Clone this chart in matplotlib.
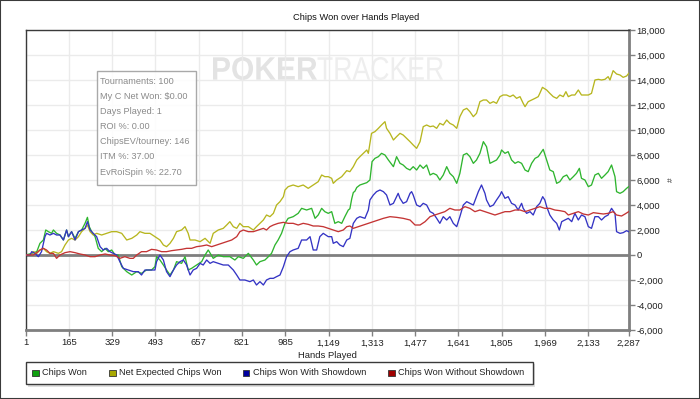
import matplotlib
matplotlib.use("Agg")
import matplotlib.pyplot as plt
from matplotlib.patches import Rectangle, PathPatch
from matplotlib.textpath import TextPath
from matplotlib.font_manager import FontProperties
from matplotlib.transforms import Affine2D, IdentityTransform
from matplotlib.ticker import FuncFormatter

plt.rcParams['font.family'] = ['Liberation Sans', 'DejaVu Sans']

title = "Chips Won over Hands Played"
series_names = ["Chips Won", "Net Expected Chips Won", "Chips Won With Showdown", "Chips Won Without Showdown"]
line_colors = ["#2fb52f", "#b7b61f", "#3434c4", "#c43434"]
legend_colors = ["#10a010", "#a8a800", "#0000a0", "#a00000"]

x_ticks = [1, 165, 329, 493, 657, 821, 985, 1149, 1313, 1477, 1641, 1805, 1969, 2133, 2287]
y_ticks = list(range(-6000, 18001, 2000))

info_lines = ["Tournaments: 100", "My C Net Won: $0.00", "Days Played: 1", "ROI %: 0.00",
              "ChipsEV/tourney: 146", "ITM %: 37.00", "EvRoiSpin %: 22.70"]
watermark_words = ["POKER", "TRACKER"]

won_hands = [1, 24, 43, 55, 68, 77, 87, 99, 106, 118, 131, 144, 156, 163, 175, 188, 201, 213, 226, 235,
             242, 251, 264, 276, 289, 302, 314, 327, 340, 352, 365, 384, 403, 422, 440, 459, 478, 491, 497, 510,
             523, 535, 548, 561, 573, 592, 605, 617, 630, 649, 668, 681, 693, 712, 731, 750, 775, 794, 807, 826,
             845, 864, 876, 889, 908, 921, 933, 946, 958, 971, 984, 996, 1015, 1034, 1047, 1066, 1085, 1098, 1110, 1123,
             1135, 1148, 1161, 1173, 1186, 1199, 1211, 1224, 1230, 1237, 1243, 1249, 1256, 1268, 1294, 1306, 1314, 1325,
             1338, 1350, 1363, 1376, 1395, 1407, 1420, 1432, 1445, 1458, 1470, 1483, 1496, 1508, 1521, 1534, 1546, 1559,
             1571, 1584, 1597, 1609, 1622, 1635, 1647, 1660, 1673, 1685, 1698, 1710, 1723, 1736, 1748, 1761, 1774, 1786,
             1799, 1805, 1818, 1830, 1843, 1856, 1868, 1881, 1894, 1906, 1919, 1932, 1944, 1957, 1963, 1976, 1988, 2001,
             2014, 2026, 2039, 2052, 2064, 2077, 2089, 2100, 2108, 2121, 2134, 2146, 2159, 2172, 2184, 2197, 2209, 2222,
             2235, 2241, 2254, 2266, 2279, 2287]
won_values = [0, 133, 267, 933, 1200, 2000, 1867, 1733, 2000, 1733, 1600, 1200, 2000, 1467, 1867, 1333, 1867, 2000, 2533, 3013,
              2267, 1867, 1467, 533, 267, 533, 267, 400, 0, 0, -933, -1333, -1600, -1333, -1467, -1200, -1200, -933, -133, -400,
              -800, -1200, -1600, -1200, -533, -667, -133, -1200, -1067, -800, -533, 0, 400, -267, 0, -133, -133, -400, -133, -267,
              133, -400, -800, -533, -400, -133, 133, 800, 1200, 1733, 2533, 2933, 3067, 3333, 3733, 3600, 3733, 2933, 3200, 3733,
              3467, 3333, 3467, 2533, 2667, 2533, 3067, 3600, 3700, 4500, 5000, 5100, 5400, 5600, 5787, 6000, 7467, 7733,
              7867, 8133, 8000, 7600, 7067, 7867, 7333, 7200, 6933, 6800, 7067, 6800, 7200, 6933, 7200, 6400, 6533, 6400,
              6000, 6400, 7067, 6533, 6267, 5733, 6533, 8000, 8133, 7867, 7333, 7600, 8133, 9067, 8667, 7333, 7467, 7600,
              8000, 8400, 8133, 8267, 7600, 7333, 7467, 7333, 6800, 6667, 7333, 7733, 7867, 8267, 8453, 7600, 6800, 6667,
              5733, 5867, 6267, 6400, 6000, 6267, 6533, 6933, 6133, 6000, 5467, 5600, 6400, 6533, 6133, 6400, 6667, 7200,
              6267, 5067, 4933, 5067, 5333, 5467]

ev_hands = [1, 17, 30, 43, 55, 68, 80, 93, 106, 125, 137, 150, 163, 175, 188, 201, 213, 226, 235, 245,
            257, 270, 289, 308, 327, 346, 365, 384, 403, 422, 434, 453, 472, 491, 510, 523, 535, 548, 561, 573,
            592, 605, 617, 624, 643, 662, 681, 700, 712, 731, 750, 763, 775, 788, 801, 813, 826, 845, 864, 876,
            889, 902, 914, 927, 940, 952, 965, 978, 984, 996, 1015, 1034, 1053, 1072, 1091, 1110, 1123, 1135, 1148, 1161,
            1167, 1180, 1199, 1218, 1230, 1243, 1256, 1268, 1281, 1294, 1300, 1312, 1325, 1338, 1350, 1363, 1369, 1382,
            1395, 1407, 1420, 1432, 1445, 1458, 1470, 1483, 1496, 1508, 1521, 1534, 1546, 1559, 1571, 1584, 1597, 1609,
            1622, 1635, 1647, 1660, 1673, 1685, 1698, 1710, 1723, 1736, 1748, 1761, 1774, 1786, 1799, 1811, 1824, 1837,
            1849, 1862, 1875, 1887, 1894, 1906, 1919, 1932, 1944, 1950, 1960, 1976, 1988, 2001, 2014, 2026, 2039, 2049,
            2058, 2071, 2083, 2096, 2108, 2121, 2134, 2146, 2159, 2172, 2184, 2197, 2209, 2216, 2228, 2241, 2254, 2266,
            2279, 2287]
ev_values = [0, 0, 267, 133, 400, 533, 267, 133, 267, 133, 267, 800, 1200, 1333, 1200, 1467, 1867, 2133, 2400, 1867,
             1600, 1733, 1600, 1733, 1867, 1867, 1733, 1200, 1333, 1600, 1867, 1733, 1733, 1467, 1200, 800, 667, 933, 1333, 1867,
             2000, 2267, 1733, 1200, 1200, 1067, 1333, 933, 1733, 2000, 2133, 2400, 2667, 2267, 2133, 2533, 2267, 2267, 2000, 2267,
             2533, 2800, 3200, 3067, 3333, 4000, 4267, 4667, 5200, 5467, 5600, 5467, 5600, 5333, 5600, 5867, 6400, 6267, 6267, 6133,
             5733, 6000, 6267, 6747, 6667, 7067, 7600, 7867, 8133, 8400, 8133, 9733, 9867, 10133, 10400, 10667, 10133, 9733,
             9200, 9467, 9733, 9600, 9333, 9067, 8800, 8533, 9067, 10267, 10400, 10267, 10320, 10133, 10533, 10400, 10800, 10533,
             10400, 10133, 11067, 11600, 11733, 11467, 11067, 11333, 12267, 12400, 12400, 12133, 12267, 12133, 12667, 12800, 12800, 12667,
             12800, 12533, 12667, 12133, 11867, 12267, 12400, 12533, 12667, 12933, 13413, 13200, 12933, 12667, 12533, 12800, 12667, 13067,
             12667, 12800, 12800, 13200, 12800, 12800, 12800, 12933, 14000, 14053, 14000, 14053, 14267, 14000, 14747, 14480, 14400, 14213,
             14320, 14533]

sd_hands = [1, 17, 24, 36, 49, 61, 74, 80, 93, 106, 118, 131, 144, 156, 163, 175, 188, 201, 213, 226,
            235, 245, 257, 270, 283, 295, 308, 320, 333, 346, 358, 371, 390, 409, 428, 440, 453, 472, 491, 497,
            510, 523, 535, 548, 561, 573, 586, 599, 611, 624, 636, 649, 662, 674, 687, 700, 712, 731, 750, 769,
            788, 801, 813, 832, 851, 864, 876, 889, 902, 914, 927, 940, 952, 965, 978, 990, 1003, 1015, 1034, 1047,
            1066, 1079, 1091, 1104, 1116, 1129, 1148, 1161, 1167, 1180, 1192, 1205, 1218, 1230, 1243, 1256, 1268, 1287,
            1300, 1306, 1319, 1331, 1344, 1357, 1369, 1382, 1395, 1407, 1413, 1420, 1432, 1445, 1458, 1464, 1470, 1483,
            1496, 1508, 1521, 1534, 1546, 1559, 1571, 1584, 1597, 1609, 1622, 1635, 1647, 1660, 1673, 1685, 1698, 1710,
            1717, 1729, 1742, 1748, 1761, 1774, 1786, 1799, 1805, 1818, 1830, 1843, 1856, 1868, 1881, 1887, 1900, 1913,
            1925, 1938, 1950, 1961, 1969, 1976, 1988, 2001, 2014, 2024, 2033, 2045, 2058, 2071, 2083, 2096, 2108, 2121,
            2134, 2146, 2159, 2172, 2184, 2197, 2209, 2222, 2235, 2241, 2254, 2266, 2279, 2287]
sd_values = [0, 0, 267, 133, -133, 267, 1467, 1733, 1600, 1733, 1600, 1600, 1200, 2000, 1467, 1867, 1200, 1867, 2000, 2133,
             2667, 2000, 1733, 1467, 667, 400, 533, 267, 133, 0, -533, -1067, -1200, -1333, -1333, -1600, -1200, -1200, -1200, -533,
             0, -400, -1333, -1733, -1200, -800, -533, -400, -800, -1600, -1200, -1067, -667, -800, -400, -667, -533, -667, -800, -800,
             -1200, -1600, -2000, -2000, -2133, -2000, -2400, -2133, -2400, -2000, -1867, -1867, -1733, -1600, -933, -133, 267, 400, 533, 1200,
             1200, 1467, 400, 400, 1467, 1733, 1467, 1467, 933, 1067, 800, 667, 1200, 1333, 2533, 2933, 3067, 2933,
             3600, 4400, 4800, 5067, 5200, 5067, 4800, 4000, 4133, 4667, 4933, 4533, 4133, 4267, 4933, 5067, 4800, 4000,
             3867, 4133, 4000, 3467, 3333, 2933, 2533, 3067, 2800, 3067, 2533, 2267, 3067, 4000, 4267, 4133, 4000, 4667,
             5067, 5600, 4933, 4400, 3867, 4000, 4400, 4800, 5067, 4533, 4667, 4133, 4000, 3600, 4133, 3733, 3333, 3467,
             3200, 3867, 4133, 4667, 4400, 3867, 3200, 2800, 2533, 2000, 2667, 2800, 2933, 2667, 3333, 2800, 3200, 3067,
             2267, 2133, 3067, 3067, 2800, 3067, 3200, 3733, 3333, 1867, 1733, 1787, 1947, 1867]

nsd_hands = [1, 30, 43, 55, 68, 80, 93, 106, 118, 131, 150, 169, 188, 207, 226, 245, 264, 283, 302, 320,
             340, 358, 377, 396, 409, 422, 440, 459, 478, 497, 516, 535, 554, 573, 592, 611, 630, 649, 668, 687,
             706, 725, 744, 763, 782, 801, 813, 826, 845, 864, 883, 902, 914, 927, 940, 958, 978, 996, 1015, 1034,
             1053, 1072, 1091, 1110, 1129, 1148, 1167, 1186, 1205, 1218, 1230, 1243, 1262, 1281, 1300, 1319, 1338, 1357,
             1382, 1407, 1432, 1458, 1477, 1496, 1515, 1534, 1552, 1571, 1590, 1609, 1628, 1647, 1666, 1685, 1704, 1723,
             1742, 1761, 1780, 1799, 1818, 1837, 1856, 1875, 1894, 1913, 1932, 1950, 1969, 1988, 2007, 2026, 2045, 2058,
             2077, 2096, 2115, 2134, 2153, 2172, 2191, 2209, 2228, 2241, 2260, 2273, 2287]
nsd_values = [0, 0, 187, 400, 533, 400, 133, 133, -267, 0, 187, 267, 187, 80, 0, -133, -133, 0, 80, 0,
              -53, -267, -133, -267, -267, 0, 267, 267, 453, 400, 267, 267, 347, 400, 453, 533, 533, 667, 720, 800,
              667, 800, 933, 1067, 1200, 1467, 1867, 2000, 1867, 1867, 2000, 2133, 2000, 2267, 2400, 2533, 2613, 2533, 2533, 2400,
              2533, 2453, 2320, 2320, 2267, 2133, 2000, 1867, 2000, 2267, 2320, 2133, 2267, 2400, 2533, 2667, 2800, 2933,
              3067, 3013, 2933, 2800, 2400, 2400, 2667, 3067, 3200, 3333, 3467, 3733, 3600, 3600, 3867, 3733, 3467, 3600,
              3467, 3333, 3200, 3333, 3467, 3467, 3600, 3600, 3467, 3600, 3733, 3867, 3733, 3733, 3600, 3547, 3467, 3200,
              3333, 3467, 3280, 3200, 3387, 3333, 3280, 3333, 3467, 3200, 3120, 3280, 3467]

W, H = 700, 399
fig = plt.figure(figsize=(W / 100, H / 100), dpi=100)
fig.patch.set_facecolor("white")


def fx(x):
    return x / W


def fy(y):
    return 1 - y / H


ax = fig.add_axes([fx(25.7), fy(330), (628.7 - 25.7) / W, 300 / H])
ax.set_facecolor("white")
ax.patch.set_alpha(0)

# watermark (condensed text paths, drawn under the grid)
wm_boxes = [(213, 317), (317.5, 443)]
wm_weights = ["bold", "normal"]
wm_colors = ["#e3e3e3", "#eeeeee"]
for word, (x0, x1), wt, col in zip(watermark_words, wm_boxes, wm_weights, wm_colors):
    tp = TextPath((0, 0), word, size=1, prop=FontProperties(family="Liberation Sans", weight=wt))
    ext = tp.get_extents()
    sx = (x1 - x0) / ext.width
    sy = (80 - 57) / ext.height
    tr = Affine2D().translate(-ext.x0, -ext.y0).scale(sx, sy).translate(x0, H - 80)
    fig.add_artist(PathPatch(tr.transform_path(tp), transform=IdentityTransform(),
                             facecolor=col, edgecolor="none", zorder=-1))

for hands, vals, c in zip([won_hands, ev_hands, sd_hands, nsd_hands],
                          [won_values, ev_values, sd_values, nsd_values], line_colors):
    ax.plot(hands, vals, color=c, lw=0.95, zorder=3)

ax.axhline(0, color="#7f7f7f", lw=2.0, zorder=2)

ax.set_xlim(x_ticks[0], x_ticks[-1])
ax.set_ylim(y_ticks[0], y_ticks[-1])
ax.set_xticks(x_ticks)
ax.set_xticklabels([f"{v:,}" for v in x_ticks])
ax.set_yticks(y_ticks)
ax.yaxis.set_major_formatter(FuncFormatter(lambda v, p: f"{int(v):,}"))
ax.yaxis.tick_right()
ax.grid(True, color="#ebebeb", lw=1.0)
ax.set_axisbelow(True)

ax.tick_params(axis="y", which="both", length=4, width=1, color="#808080", labelsize=6.8, pad=1.5,
               labelcolor="#222222", left=False, right=True)
ax.tick_params(axis="x", which="both", length=4, width=1, color="#808080", labelsize=6.8, pad=2,
               labelcolor="#222222")
for side in ["left", "top"]:
    ax.spines[side].set_color("#3a3a3a")
    ax.spines[side].set_linewidth(1.0)
for side in ["right", "bottom"]:
    ax.spines[side].set_color("#7f7f7f")
    ax.spines[side].set_linewidth(2.0)

ax.set_xlabel("Hands Played", fontsize=6.8, color="#222222", labelpad=3)

# title
fig.text(fx(356), fy(17), title, ha="center", va="center", fontsize=6.7, color="#111111")
# right axis label
fig.text(fx(671), fy(180), "#", ha="center", va="center", fontsize=6, color="#333333", rotation=90)

# info box
fig.add_artist(Rectangle((fx(96.7), fy(185)), (195.7 - 96.7) / W, (185 - 71) / H,
                         transform=fig.transFigure, facecolor="white", alpha=0.9,
                         edgecolor="#a0a0a0", lw=1.0, zorder=4))
for i, t in enumerate(info_lines):
    fig.text(fx(100.5), fy(81 + i * 15.2), t, ha="left", va="center", fontsize=6.6, color="#8a8a8a", zorder=5)

# legend
fig.add_artist(Rectangle((fx(27.5), fy(386.5)), (532.7 - 25.7) / W, (384.3 - 361.7) / H,
                         transform=fig.transFigure, facecolor="#dedede", edgecolor="none", zorder=1))
fig.add_artist(Rectangle((fx(25.7), fy(384.3)), (532.7 - 25.7) / W, (384.3 - 361.7) / H,
                         transform=fig.transFigure, facecolor="white", edgecolor="#3a3a3a", lw=1.0, zorder=2))
leg_sq_x = [32, 109, 242.7, 388]
for x0, name, c in zip(leg_sq_x, series_names, legend_colors):
    fig.add_artist(Rectangle((fx(x0), fy(376)), 6.5 / W, 6.5 / H, transform=fig.transFigure,
                             facecolor=c, edgecolor="#333333", lw=0.6, zorder=3))
    fig.text(fx(x0 + 10.3), fy(372.7), name, ha="left", va="center", fontsize=6.6, color="#222222", zorder=3)

# outer border
fig.add_artist(Rectangle((0.0007, 0.0012), 0.9986, 0.9976, transform=fig.transFigure,
                         facecolor="none", edgecolor="#3a3a3a", lw=1.5, zorder=10))

fig.savefig("out.png", dpi=100, facecolor="white")
